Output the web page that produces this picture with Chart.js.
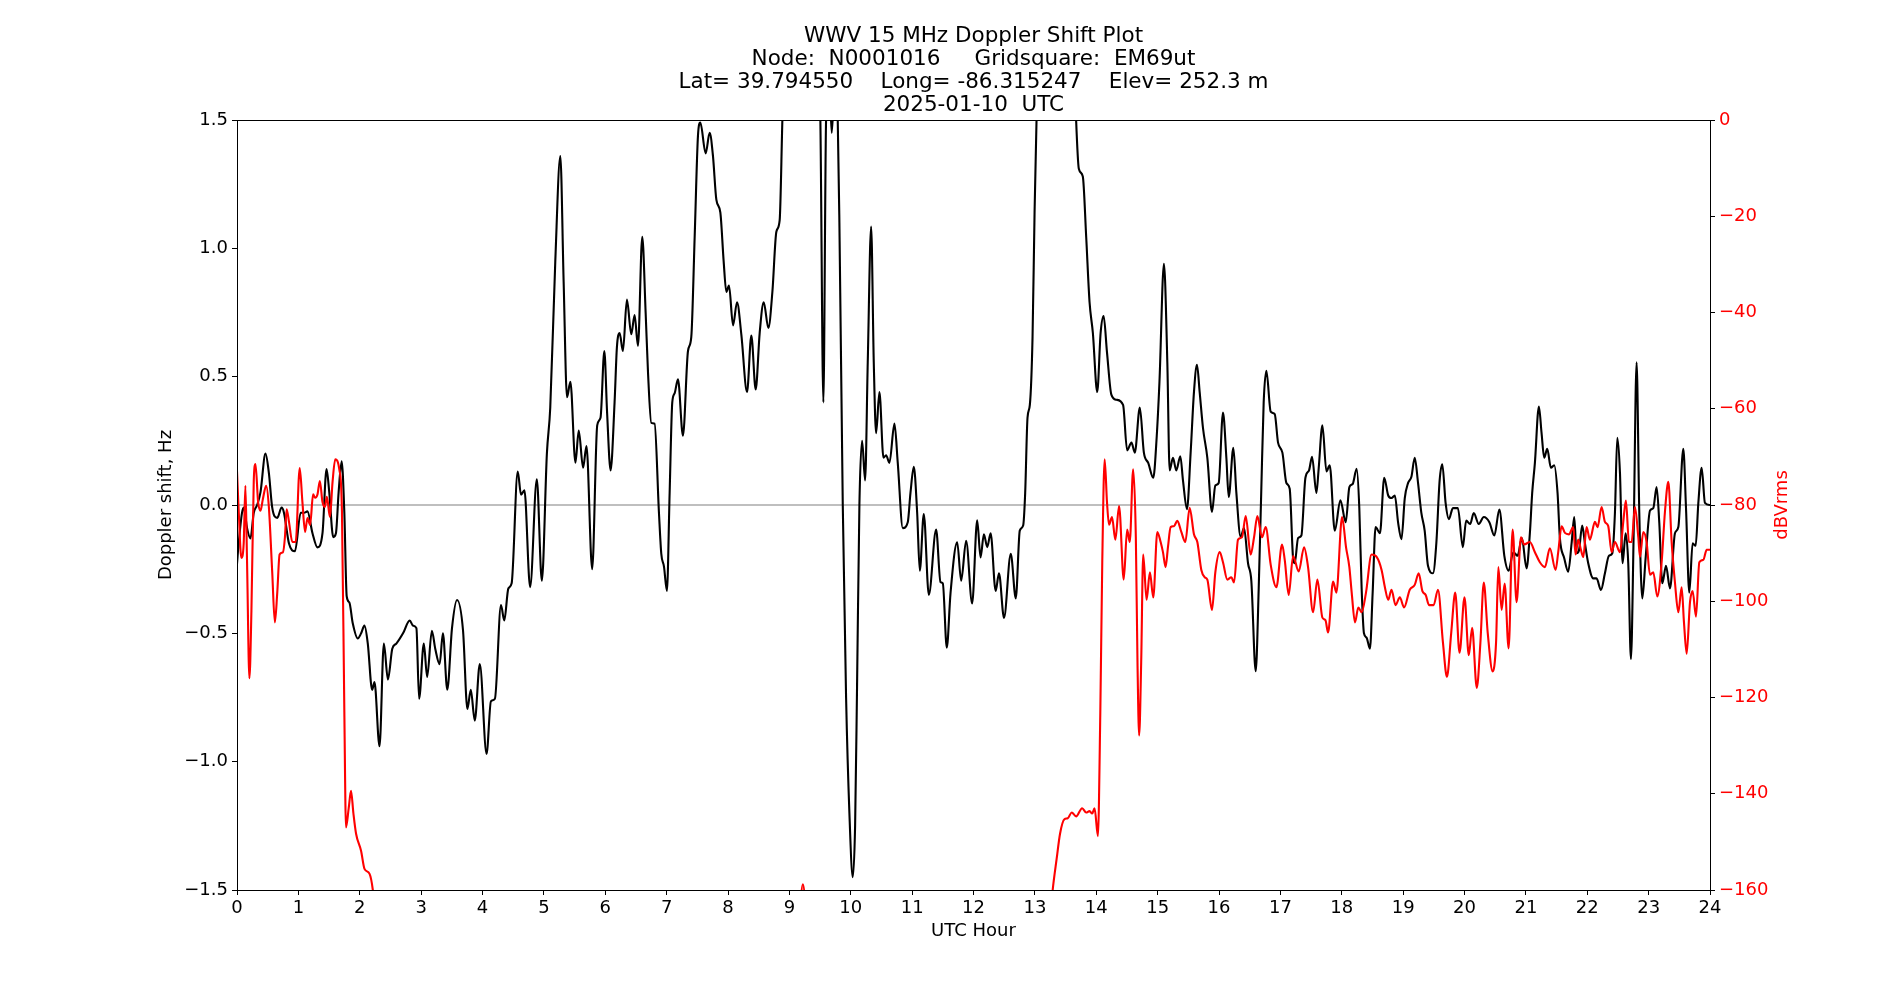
<!DOCTYPE html>
<html>
<head>
<meta charset="utf-8">
<title>WWV 15 MHz Doppler Shift Plot</title>
<script src="https://cdn.jsdelivr.net/npm/chart.js"></script>
<style>
  html, body { margin: 0; padding: 0; background: #fff; }
  #wrap { width: 1900px; height: 1000px; }
</style>
</head>
<body>
<div id="wrap"><canvas id="dopplerChart" width="1900" height="1000"></canvas></div>
<script>
// Title lines
const titleLines = [
    'WWV 15 MHz Doppler Shift Plot',
    'Node:  N0001016     Gridsquare:  EM69ut',
    'Lat= 39.794550    Long= -86.315247    Elev= 252.3 m',
    '2025-01-10  UTC'
];

// Tick values
const hourTicks = [0, 1, 2, 3, 4, 5, 6, 7, 8, 9, 10, 11, 12, 13, 14, 15, 16, 17, 18, 19, 20, 21, 22, 23, 24];
const dopplerTicks = [-1.5, -1.0, -0.5, 0.0, 0.5, 1.0, 1.5];
const powerTicks = [-160, -140, -120, -100, -80, -60, -40, -20, 0];

// Doppler shift (Hz), black trace
const dopplerHours = [
    0.000, 0.027, 0.082, 0.110, 0.164, 0.219, 0.273, 0.328, 0.383, 0.464, 0.519, 0.574, 0.656, 0.727, 0.765, 0.847, 0.945,
    1.038, 1.093, 1.148, 1.230, 1.311, 1.393, 1.459, 1.503, 1.568, 1.612, 1.656, 1.705, 1.749, 1.787, 1.831, 1.885, 1.967,
    2.022, 2.077, 2.131, 2.202, 2.240, 2.322, 2.393, 2.459, 2.530, 2.596, 2.705, 2.814, 2.869, 2.923, 2.967,
    3.044, 3.098, 3.175, 3.230, 3.301, 3.355, 3.426, 3.503, 3.585, 3.683, 3.754, 3.809, 3.874, 3.956,
    4.066, 4.137, 4.202, 4.301, 4.355, 4.421, 4.475, 4.574, 4.628, 4.683, 4.776, 4.885, 4.967,
    5.049, 5.104, 5.186, 5.268, 5.322, 5.377, 5.432, 5.514, 5.568, 5.639, 5.694, 5.787, 5.869, 5.923, 5.985,
    6.030, 6.087, 6.152, 6.190, 6.234, 6.288, 6.353, 6.424, 6.478, 6.533, 6.603, 6.658, 6.696, 6.750, 6.804, 6.875, 6.913, 6.957,
    7.005, 7.049, 7.092, 7.130, 7.185, 7.266, 7.348, 7.402, 7.457, 7.511, 7.549, 7.636, 7.701, 7.755, 7.810, 7.875, 7.929, 7.973,
    8.016, 8.082, 8.147, 8.217, 8.310, 8.380, 8.451, 8.516, 8.582, 8.658, 8.723, 8.788, 8.842, 8.886, 8.950,
    9.200, 9.450, 9.505, 9.554, 9.598, 9.650, 9.690, 9.740, 9.788, 9.815, 9.870, 9.924, 9.978,
    10.033, 10.071, 10.103, 10.141, 10.185, 10.234, 10.277, 10.332, 10.375, 10.413, 10.467, 10.533, 10.576, 10.630, 10.712, 10.766, 10.848, 10.929, 10.973,
    11.027, 11.082, 11.125, 11.190, 11.272, 11.391, 11.462, 11.500, 11.565, 11.625, 11.734, 11.799, 11.880, 11.978,
    12.060, 12.115, 12.169, 12.224, 12.279, 12.361, 12.415, 12.497, 12.607, 12.689, 12.754, 12.809, 12.842, 12.880, 12.918, 12.962, 12.995,
    13.027, 13.200, 13.450, 13.620, 13.672, 13.716, 13.781, 13.836, 13.891, 13.945,
    14.016, 14.071, 14.120, 14.175, 14.246, 14.328, 14.437, 14.503, 14.574, 14.628, 14.710, 14.776, 14.847, 14.929, 14.984,
    15.030, 15.103, 15.158, 15.196, 15.250, 15.304, 15.370, 15.413, 15.478, 15.538, 15.592, 15.641, 15.685, 15.739, 15.810, 15.886, 15.940, 15.995,
    16.065, 16.120, 16.158, 16.234, 16.283, 16.353, 16.408, 16.473, 16.527, 16.598, 16.647, 16.690, 16.728, 16.772, 16.842, 16.908, 16.962,
    17.033, 17.098, 17.152, 17.207, 17.234, 17.288, 17.342, 17.408, 17.467, 17.516, 17.587, 17.625, 17.685, 17.750, 17.804, 17.886, 17.978,
    18.065, 18.124, 18.178, 18.243, 18.286, 18.324, 18.362, 18.405, 18.459, 18.503, 18.551, 18.622, 18.692, 18.757, 18.811, 18.865, 18.919, 18.973,
    19.027, 19.081, 19.135, 19.189, 19.243, 19.297, 19.351, 19.405, 19.486, 19.541, 19.595, 19.638, 19.692, 19.746, 19.811, 19.892, 19.973,
    20.027, 20.092, 20.151, 20.232, 20.314, 20.405, 20.486, 20.568, 20.649, 20.719, 20.795, 20.865, 20.935,
    21.011, 21.065, 21.103, 21.147, 21.212, 21.255, 21.299, 21.348, 21.408, 21.462, 21.516, 21.554, 21.625, 21.690, 21.745, 21.788, 21.826, 21.864, 21.918, 21.962,
    22.016, 22.098, 22.152, 22.223, 22.288, 22.353, 22.408, 22.451, 22.489, 22.533, 22.576, 22.625, 22.668, 22.712, 22.755, 22.804, 22.848, 22.897, 22.951,
    23.022, 23.076, 23.130, 23.174, 23.223, 23.283, 23.348, 23.429, 23.484, 23.565, 23.609, 23.663, 23.717, 23.766, 23.810, 23.864, 23.918, 24.000
];
const dopplerHz = [
    -0.23, -0.15, -0.03, -0.01, -0.09, -0.13, -0.03, 0.00, 0.05, 0.20, 0.125, -0.01, -0.05, -0.01, -0.03, -0.15, -0.18,
    -0.03, -0.03, -0.025, -0.11, -0.165, -0.11, 0.14, 0.05, -0.125, -0.11, 0.05, 0.17, -0.03, -0.355, -0.38, -0.46, -0.52,
    -0.50, -0.47, -0.54, -0.72, -0.69, -0.94, -0.54, -0.68, -0.56, -0.54, -0.50, -0.45, -0.47, -0.48, -0.755,
    -0.54, -0.67, -0.49, -0.56, -0.62, -0.50, -0.72, -0.48, -0.37, -0.49, -0.795, -0.72, -0.84, -0.62,
    -0.97, -0.765, -0.755, -0.39, -0.45, -0.325, -0.305, 0.13, 0.04, 0.057, -0.32, 0.10, -0.295,
    0.20, 0.38, 0.95, 1.36, 0.87, 0.42, 0.48, 0.165, 0.29, 0.145, 0.23, -0.25, 0.31, 0.34, 0.60,
    0.36, 0.135, 0.40, 0.615, 0.67, 0.60, 0.80, 0.665, 0.74, 0.62, 1.045, 0.75, 0.52, 0.32, 0.317, -0.03, -0.19, -0.24,
    -0.335, 0.047, 0.40, 0.435, 0.49, 0.27, 0.60, 0.655, 1.045, 1.44, 1.49, 1.37, 1.45, 1.36, 1.19, 1.14, 0.95, 0.83,
    0.855, 0.70, 0.79, 0.665, 0.44, 0.66, 0.45, 0.67, 0.79, 0.69, 0.83, 1.065, 1.11, 1.50, 2.00,
    2.30, 2.00, 1.50, 0.40, 1.50, 1.65, 1.45, 1.65, 1.50, 1.10, 0.00, -0.75, -1.20,
    -1.45, -1.25, -0.70, 0.00, 0.25, 0.096, 0.556, 1.085, 0.556, 0.28, 0.44, 0.184, 0.194, 0.164, 0.317, 0.164, -0.09, -0.067, 0.047,
    0.149, -0.03, -0.256, -0.035, -0.35, -0.096, -0.30, -0.305, -0.556, -0.345, -0.145, -0.295, -0.139, -0.384,
    -0.06, -0.204, -0.114, -0.164, -0.11, -0.335, -0.266, -0.44, -0.19, -0.364, -0.10, -0.08, 0.047, 0.34, 0.39, 0.654, 1.14,
    1.50, 2.20, 2.30, 1.90, 1.50, 1.31, 1.28, 1.045, 0.79, 0.67,
    0.44, 0.67, 0.736, 0.595, 0.43, 0.41, 0.39, 0.213, 0.243, 0.204, 0.38, 0.204, 0.164, 0.106, 0.262,
    0.48, 0.94, 0.556, 0.135, 0.184, 0.135, 0.19, 0.096, -0.016, 0.204, 0.44, 0.546, 0.44, 0.30, 0.184, -0.027, 0.076, 0.086,
    0.36, 0.184, 0.031, 0.223, 0.047, -0.125, -0.09, -0.227, -0.296, -0.648, -0.325, 0.067, 0.40, 0.523, 0.364, 0.354, 0.243,
    0.204, 0.086, 0.063, -0.207, -0.227, -0.129, -0.119, 0.106, 0.135, 0.188, 0.047, 0.145, 0.311, 0.131, 0.155, -0.10, 0.018,
    -0.067, 0.07, 0.082, 0.141, -0.012, -0.325, -0.50, -0.517, -0.56, -0.345, -0.086, -0.11, 0.106, 0.037, 0.027, 0.037, -0.07, -0.133,
    0.027, 0.086, 0.11, 0.184, 0.086, -0.031, -0.10, -0.237, -0.266, -0.149, 0.096, 0.159, 0.008, -0.055, -0.012, -0.012, -0.164,
    -0.061, -0.074, -0.031, -0.074, -0.047, -0.067, -0.119, -0.018, -0.198, -0.256, -0.184, -0.198, -0.129,
    -0.247, -0.11, 0.047, 0.164, 0.384, 0.282, 0.184, 0.219, 0.145, 0.155, 0.047, -0.129, -0.207, -0.26, -0.149, -0.047, -0.188, -0.178, -0.08, -0.149,
    -0.227, -0.286, -0.286, -0.331, -0.266, -0.198, -0.188, -0.031, 0.262, 0.125, -0.227, -0.11, -0.227, -0.60, -0.129, 0.556, -0.031, -0.364, -0.207,
    -0.022, -0.012, 0.07, -0.07, -0.305, -0.237, -0.325, -0.11, -0.086, 0.219, -0.012, -0.341, -0.149, -0.159, 0.008, 0.145, 0.008, 0.00
];

// Received signal level (dBVrms), red trace
const powerHours = [
    0.000, 0.027, 0.071, 0.109, 0.137, 0.164, 0.202, 0.235, 0.273, 0.301, 0.344, 0.383, 0.421, 0.475, 0.519, 0.574, 0.617, 0.656, 0.694, 0.749, 0.781, 0.809, 0.847, 0.902, 0.956,
    1.022, 1.066, 1.109, 1.148, 1.191, 1.240, 1.273, 1.311, 1.350, 1.393, 1.432, 1.464, 1.514, 1.557, 1.601, 1.667, 1.710, 1.749, 1.776, 1.820, 1.858, 1.896, 1.940,
    2.022, 2.077, 2.158, 2.213, 2.300,
    9.120, 9.220, 9.320,
    13.200, 13.290, 13.355, 13.410, 13.481, 13.536, 13.600, 13.672, 13.770, 13.836, 13.891, 13.934, 13.973,
    14.027, 14.066, 14.098, 14.137, 14.175, 14.208, 14.257, 14.311, 14.372, 14.448, 14.503, 14.546, 14.601, 14.645, 14.672, 14.699, 14.732, 14.765, 14.820, 14.874, 14.929, 14.995,
    15.049, 15.087, 15.130, 15.168, 15.212, 15.266, 15.321, 15.386, 15.451, 15.522, 15.592, 15.647, 15.712, 15.766, 15.810, 15.886, 15.940,
    16.011, 16.065, 16.136, 16.201, 16.245, 16.310, 16.375, 16.435, 16.516, 16.571, 16.625, 16.701, 16.761, 16.842, 16.935,
    17.027, 17.071, 17.136, 17.207, 17.299, 17.386, 17.451, 17.533, 17.603, 17.685, 17.734, 17.777, 17.859, 17.913,
    18.005, 18.070, 18.124, 18.162, 18.216, 18.270, 18.324, 18.395, 18.486, 18.568, 18.649, 18.703, 18.757, 18.811, 18.876, 18.946,
    19.016, 19.108, 19.189, 19.254, 19.314, 19.368, 19.422, 19.497, 19.568, 19.649, 19.714, 19.784, 19.849, 19.919,
    20.000, 20.070, 20.124, 20.200, 20.259, 20.314, 20.378, 20.459, 20.514, 20.551, 20.605, 20.654, 20.719, 20.784, 20.849, 20.919, 20.973,
    21.065, 21.147, 21.228, 21.310, 21.391, 21.484, 21.527, 21.582, 21.636, 21.701, 21.772, 21.810, 21.853, 21.897, 21.935, 21.989,
    22.043, 22.125, 22.168, 22.234, 22.288, 22.342, 22.397, 22.451, 22.533, 22.587, 22.630, 22.679, 22.723, 22.777, 22.832, 22.859, 22.913, 22.967,
    23.022, 23.076, 23.141, 23.212, 23.266, 23.321, 23.375, 23.429, 23.484, 23.538, 23.576, 23.620, 23.674, 23.717, 23.772, 23.826, 23.891, 23.946, 24.000
];
const powerDb = [
    -73, -81, -91, -88, -76, -92, -116, -102, -75, -71.5, -79.4, -81.2, -78.8, -76, -80.4, -94, -104.4, -98.2, -90.3, -89.8, -86.7, -80.9, -83.5, -87.7, -87.7,
    -72.3, -79.4, -85.6, -82.7, -84.1, -77.8, -78.5, -77.8, -75, -79.4, -80.4, -78.3, -82.5, -75.2, -70.5, -72.6, -81.4, -123, -147, -143, -139.4, -144, -148.3,
    -151.9, -155.6, -156.6, -160, -172,
    -172, -158.8, -172,
    -172, -160, -153.5, -148.3, -145.3, -145.1, -143.9, -144.7, -143.0, -143.9, -143.6, -144.1, -143.0,
    -148.8, -123.2, -91.9, -70.5, -79.4, -84.1, -82.5, -87.2, -80.2, -95.5, -85.1, -87.7, -72.6, -86.7, -112.8, -127.9, -112.8, -90.3, -99.7, -94.0, -99.2, -85.6,
    -87.7, -89.8, -92.9, -88.8, -84.6, -84.4, -83.3, -85.6, -87.7, -80.6, -86.1, -87.7, -93.5, -95.0, -95.5, -101.8, -94.0,
    -89.8, -91.9, -95.5, -95.0, -96.1, -87.2, -86.7, -82.3, -90.3, -86.7, -82.3, -86.7, -84.6, -92.4, -97.1,
    -88.2, -91.4, -98.7, -90.6, -93.8, -88.8, -92.9, -102.3, -95.5, -103.4, -103.9, -106.5, -95.9, -98.2,
    -82.5, -88.8, -92.9, -98.2, -104.4, -101.3, -102.3, -98.2, -90.3, -90.8, -93.5, -97.1, -99.7, -97.6, -100.8, -99.2,
    -101.3, -97.6, -96.6, -94.2, -97.9, -98.7, -100.8, -100.8, -97.6, -108.6, -115.7, -106.5, -98.2, -110.7,
    -99.2, -111.2, -105.5, -118.0, -108.6, -96.1, -106.5, -114.6, -108.6, -92.9, -101.8, -96.3, -109.8, -85.1, -100.2, -86.7, -88.2,
    -87.7, -89.8, -91.9, -92.9, -89.0, -93.5, -89.8, -84.4, -85.8, -86.1, -84.6, -90.3, -87.2, -89.3, -90.8, -84.6,
    -87.2, -83.5, -84.6, -80.4, -83.5, -84.4, -89.8, -87.7, -89.8, -83.5, -79.1, -87.7, -87.7, -80.4, -86.7, -90.8, -85.6, -87.7,
    -94.5, -94.0, -99.0, -91.9, -81.4, -75.2, -87.7, -96.1, -102.3, -97.1, -104.4, -110.9, -100.2, -97.9, -103.2, -91.9, -91.4, -89.3, -89.3
];

// Zero reference line
const zeroHours = [0, 24];
const zeroHz = [0, 0];

const toPoints = (xs, ys) => xs.map((x, i) => ({ x: x, y: ys[i] }));
const minusSign = (s) => s.replace('-', '\u2212');

const FONT = 'DejaVu Sans';

// white background, title centred over the plot, frame, right axis label (bottom-to-top)
const extrasPlugin = {
    id: 'extras',
    beforeDraw(chart) {
        const c = chart.ctx;
        c.save();
        c.fillStyle = '#ffffff';
        c.fillRect(0, 0, chart.width, chart.height);
        c.restore();
    },
    afterDatasetsDraw(chart) {
        const c = chart.ctx;
        const a = chart.chartArea;
        c.save();
        c.strokeStyle = '#000000';
        c.lineWidth = 1;
        c.strokeRect(Math.round(a.left) + 0.5, Math.round(a.top) + 0.5,
            Math.round(a.right - a.left), Math.round(a.bottom - a.top));
        c.restore();
    },
    afterDraw(chart) {
        const c = chart.ctx;
        const a = chart.chartArea;
        c.save();
        c.font = '21.5px "' + FONT + '"';
        c.fillStyle = '#000000';
        c.textAlign = 'center';
        c.textBaseline = 'middle';
        titleLines.forEach((line, i) => {
            c.fillText(line, (a.left + a.right) / 2, 36.5 + i * 23);
        });
        c.restore();

        c.save();
        c.translate(1782, (a.top + a.bottom) / 2);
        c.rotate(-Math.PI / 2);
        c.font = '18px "' + FONT + '"';
        c.fillStyle = '#ff0000';
        c.textAlign = 'center';
        c.textBaseline = 'middle';
        c.fillText('dBVrms', 0, 0);
        c.restore();
    }
};

const ctx = document.getElementById('dopplerChart').getContext('2d');

const dopplerChart = new Chart(ctx, {
    type: 'line',
    data: {
        datasets: [
            {
                label: 'dBVrms',
                data: toPoints(powerHours, powerDb),
                yAxisID: 'y1',
                borderColor: '#ff0000',
                borderWidth: 2.1,
                pointRadius: 0,
                cubicInterpolationMode: 'monotone',
                order: 0
            },
            {
                label: 'Doppler shift',
                data: toPoints(dopplerHours, dopplerHz),
                yAxisID: 'y',
                borderColor: '#000000',
                borderWidth: 2.1,
                pointRadius: 0,
                cubicInterpolationMode: 'monotone',
                order: 1
            },
            {
                label: 'zero',
                data: toPoints(zeroHours, zeroHz),
                yAxisID: 'y',
                borderColor: '#808080',
                borderWidth: 1.2,
                pointRadius: 0,
                order: 2
            }
        ]
    },
    options: {
        responsive: false,
        animation: false,
        devicePixelRatio: 1,
        layout: { padding: { top: 120, left: 0, right: 0, bottom: 0 } },
        scales: {
            x: {
                type: 'linear',
                min: 0,
                max: 24,
                afterBuildTicks: (scale) => { scale.ticks = hourTicks.map(v => ({ value: v })); },
                afterFit: (scale) => { scale.height = 110; },
                grid: { drawOnChartArea: false, color: '#000000', tickLength: 5 },
                border: { display: true, color: '#000000', width: 1 },
                ticks: { color: '#000000', padding: 3, maxRotation: 0, autoSkip: false, font: { family: FONT, size: 18 } },
                title: { display: true, text: 'UTC Hour', color: '#000000', padding: { top: 0, bottom: 58 }, font: { family: FONT, size: 18 } }
            },
            y: {
                position: 'left',
                min: -1.5,
                max: 1.5,
                afterBuildTicks: (scale) => { scale.ticks = dopplerTicks.map(v => ({ value: v })); },
                afterFit: (scale) => { scale.width = 237; },
                grid: { drawOnChartArea: false, color: '#000000', tickLength: 5 },
                border: { display: true, color: '#000000', width: 1 },
                ticks: {
                    color: '#000000',
                    padding: 4,
                    font: { family: FONT, size: 18 },
                    callback: (value) => minusSign(Number(value).toFixed(1))
                },
                title: { display: true, text: 'Doppler shift, Hz', color: '#000000', padding: { top: 156, bottom: 0 }, font: { family: FONT, size: 18 } }
            },
            y1: {
                position: 'right',
                min: -160,
                max: 0,
                afterBuildTicks: (scale) => { scale.ticks = powerTicks.map(v => ({ value: v })); },
                afterFit: (scale) => { scale.width = 190; },
                grid: { drawOnChartArea: false, color: '#000000', tickLength: 5 },
                border: { display: true, color: '#000000', width: 1 },
                ticks: {
                    color: '#ff0000',
                    padding: 4,
                    font: { family: FONT, size: 18 },
                    callback: (value) => minusSign(String(value))
                }
            }
        },
        plugins: {
            legend: { display: false },
            tooltip: { enabled: false },
            title: { display: false }
        }
    },
    plugins: [extrasPlugin]
});
</script>
</body>
</html>
